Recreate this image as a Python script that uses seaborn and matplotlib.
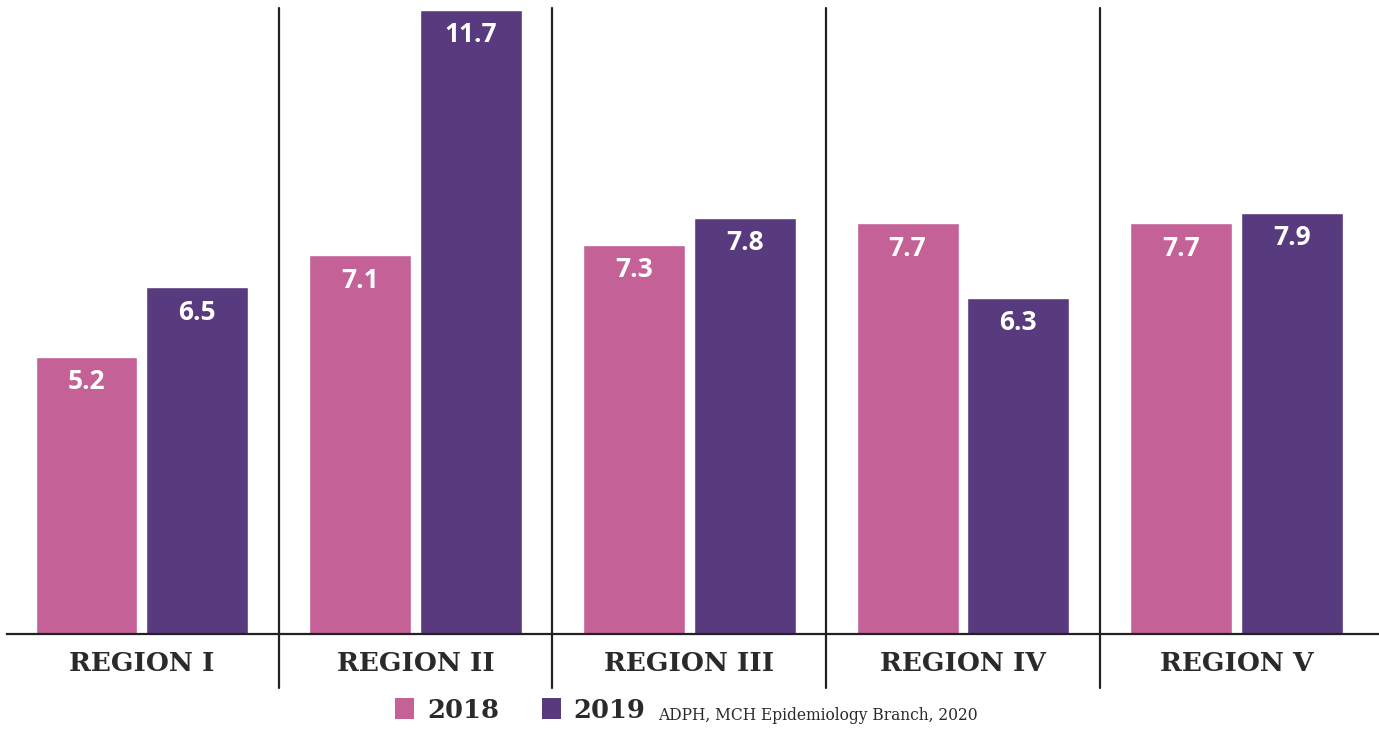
import seaborn as sns
import matplotlib.pyplot as plt
import pandas as pd
from matplotlib.patches import Patch

regions = ['REGION I', 'REGION II', 'REGION III', 'REGION IV', 'REGION V']
years = ['2018', '2019']
values_2018 = [5.2, 7.1, 7.3, 7.7, 7.7]
values_2019 = [6.5, 11.7, 7.8, 6.3, 7.9]
source_note = 'ADPH, MCH Epidemiology Branch, 2020'

colors = {'2018': '#C46196', '2019': '#583A7E'}
text_dark = '#2a2a2a'

df = pd.DataFrame({
    'region': regions * 2,
    'year': ['2018'] * len(regions) + ['2019'] * len(regions),
    'rate': values_2018 + values_2019,
})

sns.set_style('white')
plt.rcParams['font.family'] = ['DejaVu Serif']

fig = plt.figure(figsize=(13.79, 7.29), dpi=100)
ax = fig.add_axes([7 / 1379, 1 - 634 / 729, 1 - 7 / 1379, 626 / 729])

sns.barplot(data=df, x='region', y='rate', hue='year', hue_order=years,
            palette=colors, width=0.81, gap=0.08, saturation=1,
            legend=False, ax=ax)

ax.set_xlim(-0.493, 4.52)
ax.set_ylim(0, 11.74)
ax.set_xlabel('')
ax.set_ylabel('')
ax.set_yticks([])
ax.tick_params(axis='x', length=0, pad=12)
for lbl in ax.get_xticklabels():
    lbl.set_fontsize(19)
    lbl.set_fontweight('bold')
    lbl.set_color(text_dark)

for side in ['top', 'right', 'left']:
    ax.spines[side].set_visible(False)
ax.spines['bottom'].set_linewidth(1.6)
ax.spines['bottom'].set_color('#222222')

# separators between regions, running below the axis
for i in range(len(regions) - 1):
    ax.plot([i + 0.5, i + 0.5], [-0.086, 1.0], color='#222222', lw=1.6,
            transform=ax.get_xaxis_transform(), clip_on=False)

# value labels inside bar tops
for container in ax.containers:
    for bar in container:
        h = bar.get_height()
        ax.annotate(f'{h:.1f}', (bar.get_x() + bar.get_width() / 2, h),
                    xytext=(0, -8), textcoords='offset points',
                    ha='center', va='top', color='white',
                    fontsize=19, fontweight='bold', family='Open Sans')

handles = [Patch(facecolor=colors[y], edgecolor='none', label=y) for y in years]
leg = fig.legend(handles=handles, loc='center left',
                 bbox_to_anchor=(395 / 1379, 1 - 710 / 729),
                 ncol=2, frameon=False, borderpad=0, borderaxespad=0,
                 handlelength=0.75, handleheight=0.85,
                 handletextpad=0.5, columnspacing=1.65,
                 prop={'family': 'DejaVu Serif', 'weight': 'bold', 'size': 18.5})
for t in leg.get_texts():
    t.set_color(text_dark)

fig.text(658 / 1379, 1 - 715 / 729, source_note, fontsize=11.2,
         color=text_dark, va='center', ha='left')

fig.savefig('out.png', dpi=100)
